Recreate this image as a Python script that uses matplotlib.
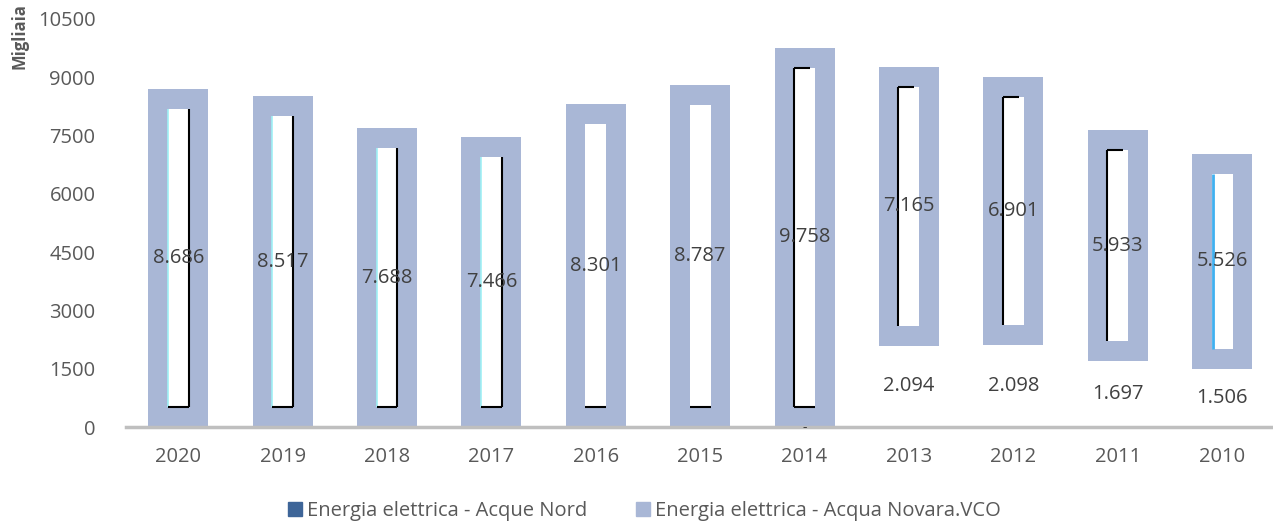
import numpy as np
import matplotlib.pyplot as plt
from matplotlib.patches import Patch

years = ["2020", "2019", "2018", "2017", "2016", "2015", "2014", "2013", "2012", "2011", "2010"]
acque_nord = [np.nan, np.nan, np.nan, np.nan, np.nan, np.nan, 0, 2094, 2098, 1697, 1506]
novara_vco = [8686, 8517, 7688, 7466, 8301, 8787, 9758, 7165, 6901, 5933, 5526]

# which side of the white inner column has the dark stroke (picture-fill artefact)
stroke_side = ["r", "r", "r", "r", None, None, "l", "l", "l", "l", None]

frame_col = "#a9b7d6"
nord_col = "#3e6598"
txt_col = "#404040"
tick_col = "#595959"

plt.rcParams['font.family'] = ['Open Sans', 'DejaVu Sans']
fs = 14.5

fig = plt.figure(figsize=(12.73, 5.24), dpi=100)
ax = fig.add_axes([0.099, 0.185, 0.902, 0.779])

x = np.arange(len(years))
nord = np.nan_to_num(np.array(acque_nord, dtype=float))
nov = np.array(novara_vco, dtype=float)

ymax = 10500
ax.set_ylim(0, ymax)
ax.set_xlim(-0.5, len(years) - 0.5)

# frame thickness of ~20 px expressed in data units
ax_h_px = 0.779 * 524
pad = 20 / ax_h_px * ymax
outer_w = 0.575
inner_w = 0.2

ax.bar(x, nord, width=outer_w, color="none")
ax.bar(x, nov, bottom=nord, width=outer_w, color=frame_col)
ax.bar(x, nov - 2 * pad, bottom=nord + pad, width=inner_w, color="white")

for i in range(len(years)):
    y0 = nord[i] + pad
    y1 = nord[i] + nov[i] - pad
    side = stroke_side[i]
    if side == "r":
        ax.vlines(x[i] + inner_w / 2, y0, y1, color="black", lw=1.5)
        ax.vlines(x[i] - inner_w / 2, y0, y1, color="#9ff0f5", lw=1.2)
    elif side == "l":
        ax.vlines(x[i] - inner_w / 2, y0, y1, color="black", lw=1.5)
        ax.hlines(y1, x[i] - inner_w / 2, x[i] + inner_w / 4, color="black", lw=1.5)
    else:
        if i == len(years) - 1:
            ax.vlines(x[i] - inner_w / 2 + 0.01, y0, y1, color="#3fb0f0", lw=2)
    if nord[i] == 0:
        ax.hlines(y0, x[i] - inner_w / 2, x[i] + inner_w / 2, color="black", lw=1.5)

for i in range(len(years)):
    ax.text(x[i], nord[i] + nov[i] / 2, f"{novara_vco[i] / 1000:.3f}",
            ha="center", va="center", fontsize=fs, color=txt_col)
    v = acque_nord[i]
    if not np.isnan(v):
        if v == 0:
            ax.text(x[i], 0, "-", ha="center", va="center", fontsize=10, color=txt_col)
        else:
            ax.text(x[i], v / 2, f"{v / 1000:.3f}",
                    ha="center", va="center", fontsize=fs, color=txt_col)

ax.set_yticks(np.arange(0, ymax + 1, 1500))
ax.set_xticks(x)
ax.set_xticklabels(years)
ax.tick_params(axis="both", length=0, labelsize=fs, colors=tick_col)
ax.tick_params(axis="x", pad=14)
ax.tick_params(axis="y", pad=22)
for s in ["top", "right", "left"]:
    ax.spines[s].set_visible(False)
ax.spines["bottom"].set_color("#bfbfbf")
ax.spines["bottom"].set_linewidth(2.5)

fig.text(20 / 1273, 1 - 36 / 524, "Migliaia", rotation=90, ha="center", va="center",
         fontsize=12, fontweight="bold", color=tick_col)

handles = [Patch(color=nord_col), Patch(color=frame_col)]
fig.legend(handles, ["Energia elettrica - Acque Nord", "Energia elettrica - Acqua Novara.VCO"],
           loc="center", bbox_to_anchor=(0.506, 0.024), ncol=2, frameon=False,
           fontsize=fs, handlelength=0.7, handleheight=0.7, handletextpad=0.25,
           columnspacing=2.4, labelcolor=tick_col)

fig.savefig("out.png", dpi=100)
